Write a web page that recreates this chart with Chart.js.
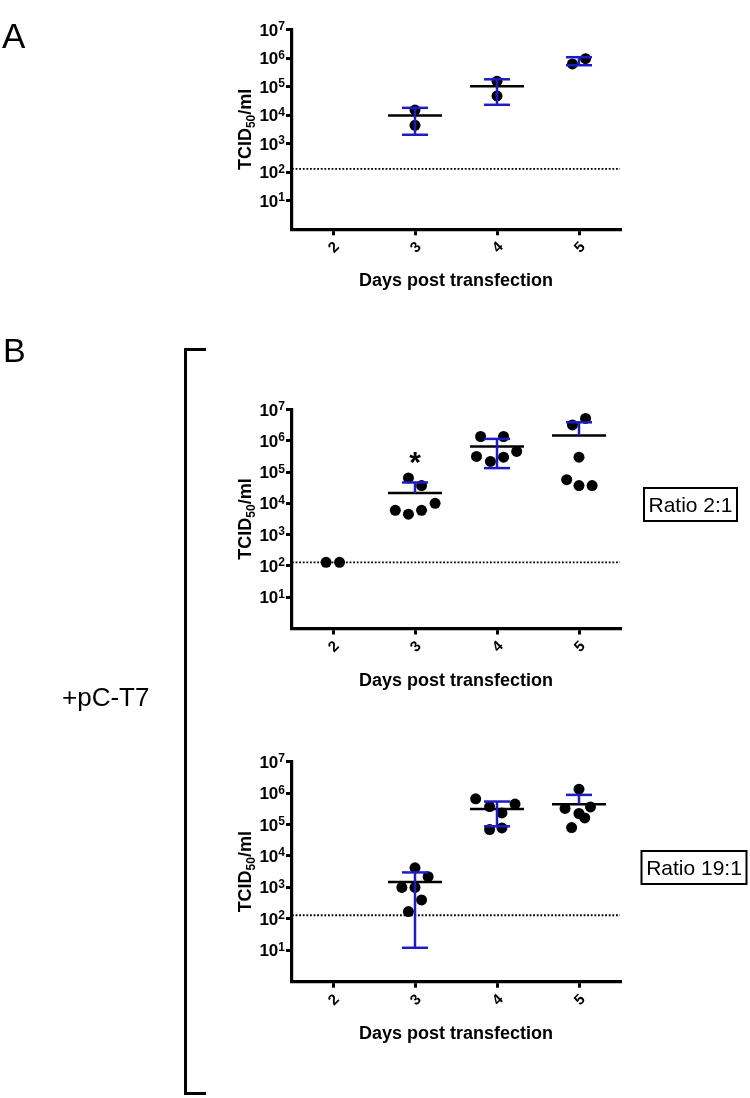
<!DOCTYPE html>
<html>
<head>
<meta charset="utf-8">
<script src="https://cdn.jsdelivr.net/npm/chart.js@4.4.1/dist/chart.umd.min.js"></script>
<style>
html,body{margin:0;padding:0;background:#fff;width:750px;height:1098px;overflow:hidden;}
canvas{position:absolute;left:0;display:block;}
</style>
</head>
<body>
<canvas id="bg" width="750" height="1098" style="top:0"></canvas>
<canvas id="cA" width="750" height="300" style="top:0"></canvas>
<canvas id="cB1" width="750" height="320" style="top:380px"></canvas>
<canvas id="cB2" width="750" height="330" style="top:730px"></canvas>
<script>
// ---------- data ----------
const days = [2, 3, 4, 5];
const xTicks = [2, 3, 4, 5];
const yTickExps = [1, 2, 3, 4, 5, 6, 7];
const detectionLimit = 130;

// Panel A
const aPtX = [3, 3, 4, 4, 4.92, 5.08];
const aPtY = [15000, 4400, 155000, 47000, 620000, 950000];
const aMean = [null, 9700, 102000, null];
const aErrHi = [null, 18000, 180000, 1070000];
const aErrLo = [null, 2050, 23000, 560000];

// Panel B, ratio 2:1
const b1PtX = [1.915, 2.08, 2.92, 3.08, 2.76, 2.92, 3.08, 3.245, 3.8, 4.08, 3.75, 3.92, 4.08, 4.24, 4.92, 5.08, 5.0, 4.85, 5.0, 5.16];
const b1PtY = [130, 130, 65000, 37000, 6000, 4500, 6000, 10000, 1370000, 1370000, 316000, 218000, 300000, 455000, 3200000, 5200000, 300000, 57000, 37000, 37000];
const b1Mean = [null, 21400, 660000, 1480000];
const b1ErrHi = [null, 46500, 1150000, 3900000];
const b1ErrLo = [null, null, 134000, null];
const b1StarDays = [3];
const b1StarVals = [355000];

// Panel B, ratio 19:1
const b2PtX = [3, 3.16, 2.84, 3, 3.08, 2.92, 3.74, 4.22, 3.91, 4.06, 3.91, 4.06, 5.0, 4.83, 5.14, 5.0, 5.07, 4.91];
const b2PtY = [4200, 2200, 1000, 1000, 400, 170, 660000, 450000, 375000, 235000, 69000, 78000, 1340000, 325000, 365000, 225000, 163000, 80000];
const b2Mean = [null, 1500, 310000, 440000];
const b2ErrHi = [null, 3000, 540000, 880000];
const b2ErrLo = [null, 12, 88000, null];

// ---------- styling ----------
const FONT = '"Liberation Sans", Arial, Helvetica, sans-serif';
const BLUE = '#1c1cc4';
Chart.defaults.font.family = FONT;

const textPlugin = {
  id: 'panelTexts',
  afterDraw(chart) {
    const {ctx, chartArea: a, scales: {x, y}} = chart;
    const stars = chart.options.plugins.panelTexts || {};
    ctx.save();
    ctx.fillStyle = '#000';
    ctx.textAlign = 'left';
    ctx.textBaseline = 'alphabetic';
    // y tick labels 10^n
    for (const e of yTickExps) {
      const py = y.getPixelForValue(Math.pow(10, e));
      ctx.font = 'bold 12px ' + FONT;
      const sw = ctx.measureText(String(e)).width;
      ctx.font = 'bold 17px ' + FONT;
      const bw = ctx.measureText('10').width;
      const right = a.left - 7;
      ctx.fillText('10', right - sw - bw, py + 6);
      ctx.font = 'bold 12px ' + FONT;
      ctx.fillText(String(e), right - sw, py + 0.5);
    }
    // y title TCID50/ml
    ctx.save();
    ctx.translate(251, (a.top + a.bottom) / 2);
    ctx.rotate(-Math.PI / 2);
    ctx.font = 'bold 18px ' + FONT;
    const w1 = ctx.measureText('TCID').width;
    const w3 = ctx.measureText('/ml').width;
    ctx.font = 'bold 12px ' + FONT;
    const w2 = ctx.measureText('50').width;
    let sx = -(w1 + w2 + w3) / 2;
    ctx.font = 'bold 18px ' + FONT;
    ctx.fillText('TCID', sx, 0);
    ctx.font = 'bold 12px ' + FONT;
    ctx.fillText('50', sx + w1, 4);
    ctx.font = 'bold 18px ' + FONT;
    ctx.fillText('/ml', sx + w1 + w2, 0);
    ctx.restore();
    // x title
    ctx.font = 'bold 18px ' + FONT;
    ctx.textAlign = 'center';
    ctx.fillText('Days post transfection', (a.left + a.right) / 2, a.bottom + 57);
    // significance stars
    if (stars.days) {
      ctx.font = 'bold 30px ' + FONT;
      stars.days.forEach((d, i) => {
        ctx.fillText('*', x.getPixelForValue(d), y.getPixelForValue(stars.vals[i]) + 17);
      });
    }
    ctx.restore();
  }
};

function makePanel(id, canvasTop, canvasH, areaTop, areaBottom, ptX, ptY, mean, hi, lo, starDays, starVals) {
  const pts = ptX.map((xv, i) => ({x: xv, y: ptY[i]}));
  const meanData = [];
  const errLine = [];
  const caps = [];
  days.forEach((d, i) => {
    if (mean[i] != null) meanData.push({x: d, y: mean[i]});
    if (hi[i] != null) {
      const from = lo[i] != null ? lo[i] : mean[i];
      errLine.push({x: d, y: from}, {x: d, y: hi[i]}, {x: d, y: null});
      caps.push({x: d, y: hi[i]});
      if (lo[i] != null) caps.push({x: d, y: lo[i]});
    }
  });
  const lodData = [{x: 1.5, y: detectionLimit}, {x: 5.5, y: detectionLimit}];
  const xHeight = canvasH - (areaBottom - canvasTop);

  return new Chart(document.getElementById(id), {
    type: 'scatter',
    data: {
      datasets: [
        {data: errLine, showLine: true, borderColor: BLUE, borderWidth: 2.5, pointRadius: 0, spanGaps: false, order: 1, clip: false},
        {data: caps, pointStyle: 'line', pointRadius: 13, borderColor: BLUE, pointBorderWidth: 2.5, borderWidth: 2.5, order: 1, clip: false},
        {data: meanData, pointStyle: 'line', pointRadius: 27, borderColor: '#000', pointBorderWidth: 2.5, borderWidth: 2.5, order: 2, clip: false},
        {data: pts, pointStyle: 'circle', pointRadius: 5.5, backgroundColor: '#000', borderWidth: 0, pointBorderWidth: 0, order: 3, clip: false},
        {data: lodData, showLine: true, borderColor: '#000', borderWidth: 1.8, borderDash: [1.8, 1.8], pointRadius: 0, order: 4}
      ]
    },
    options: {
      responsive: false,
      animation: false,
      events: [],
      layout: {padding: {top: areaTop - canvasTop, left: 0, right: 130, bottom: 0}},
      plugins: {legend: {display: false}, tooltip: {enabled: false}, panelTexts: {days: starDays, vals: starVals}},
      scales: {
        x: {
          type: 'linear', min: 1.5, max: 5.5,
          afterBuildTicks: s => { s.ticks = xTicks.map(v => ({value: v})); },
          afterFit: s => { s.height = xHeight; },
          ticks: {color: '#000', font: {size: 15, weight: 'bold'}, minRotation: 45, maxRotation: 45, padding: 3, labelOffset: 4, callback: v => String(v)},
          grid: {display: true, drawOnChartArea: false, drawTicks: true, tickLength: 6, lineWidth: 3, color: '#000'},
          border: {display: true, width: 3.2, color: '#000'}
        },
        y: {
          type: 'logarithmic', min: 1, max: 1e7,
          afterBuildTicks: s => { s.ticks = yTickExps.map(e => ({value: Math.pow(10, e)})); },
          afterFit: s => { s.width = 292; },
          ticks: {display: false},
          grid: {display: true, drawOnChartArea: false, drawTicks: true, tickLength: 6, lineWidth: 3, color: '#000'},
          border: {display: true, width: 3.2, color: '#000'}
        }
      }
    },
    plugins: [textPlugin]
  });
}

makePanel('cA', 0, 300, 10, 229.3, aPtX, aPtY, aMean, aErrHi, aErrLo, null, null);
makePanel('cB1', 380, 320, 409, 628.5, b1PtX, b1PtY, b1Mean, b1ErrHi, b1ErrLo, b1StarDays, b1StarVals);
makePanel('cB2', 730, 330, 761.7, 981.7, b2PtX, b2PtY, b2Mean, b2ErrHi, b2ErrLo, null, null);

// ---------- figure annotations ----------
(function () {
  const ctx = document.getElementById('bg').getContext('2d');
  ctx.fillStyle = '#000';
  ctx.strokeStyle = '#000';
  ctx.textBaseline = 'alphabetic';
  ctx.font = '35px ' + FONT;
  ctx.fillText('A', 2, 48);
  ctx.font = '34px ' + FONT;
  ctx.fillText('B', 3, 362);
  ctx.font = '26px ' + FONT;
  ctx.fillText('+pC-T7', 62, 706);
  // bracket
  ctx.lineWidth = 3;
  ctx.beginPath();
  ctx.moveTo(206, 349.5);
  ctx.lineTo(185.5, 349.5);
  ctx.lineTo(185.5, 1093.5);
  ctx.lineTo(206, 1093.5);
  ctx.stroke();
  // ratio boxes
  ctx.lineWidth = 2;
  ctx.strokeRect(644, 488, 93, 33);
  ctx.strokeRect(641.5, 851, 105, 33);
  ctx.font = '21px ' + FONT;
  ctx.textAlign = 'center';
  ctx.fillText('Ratio 2:1', 690.5, 512);
  ctx.fillText('Ratio 19:1', 694, 875);
})();
</script>
</body>
</html>
